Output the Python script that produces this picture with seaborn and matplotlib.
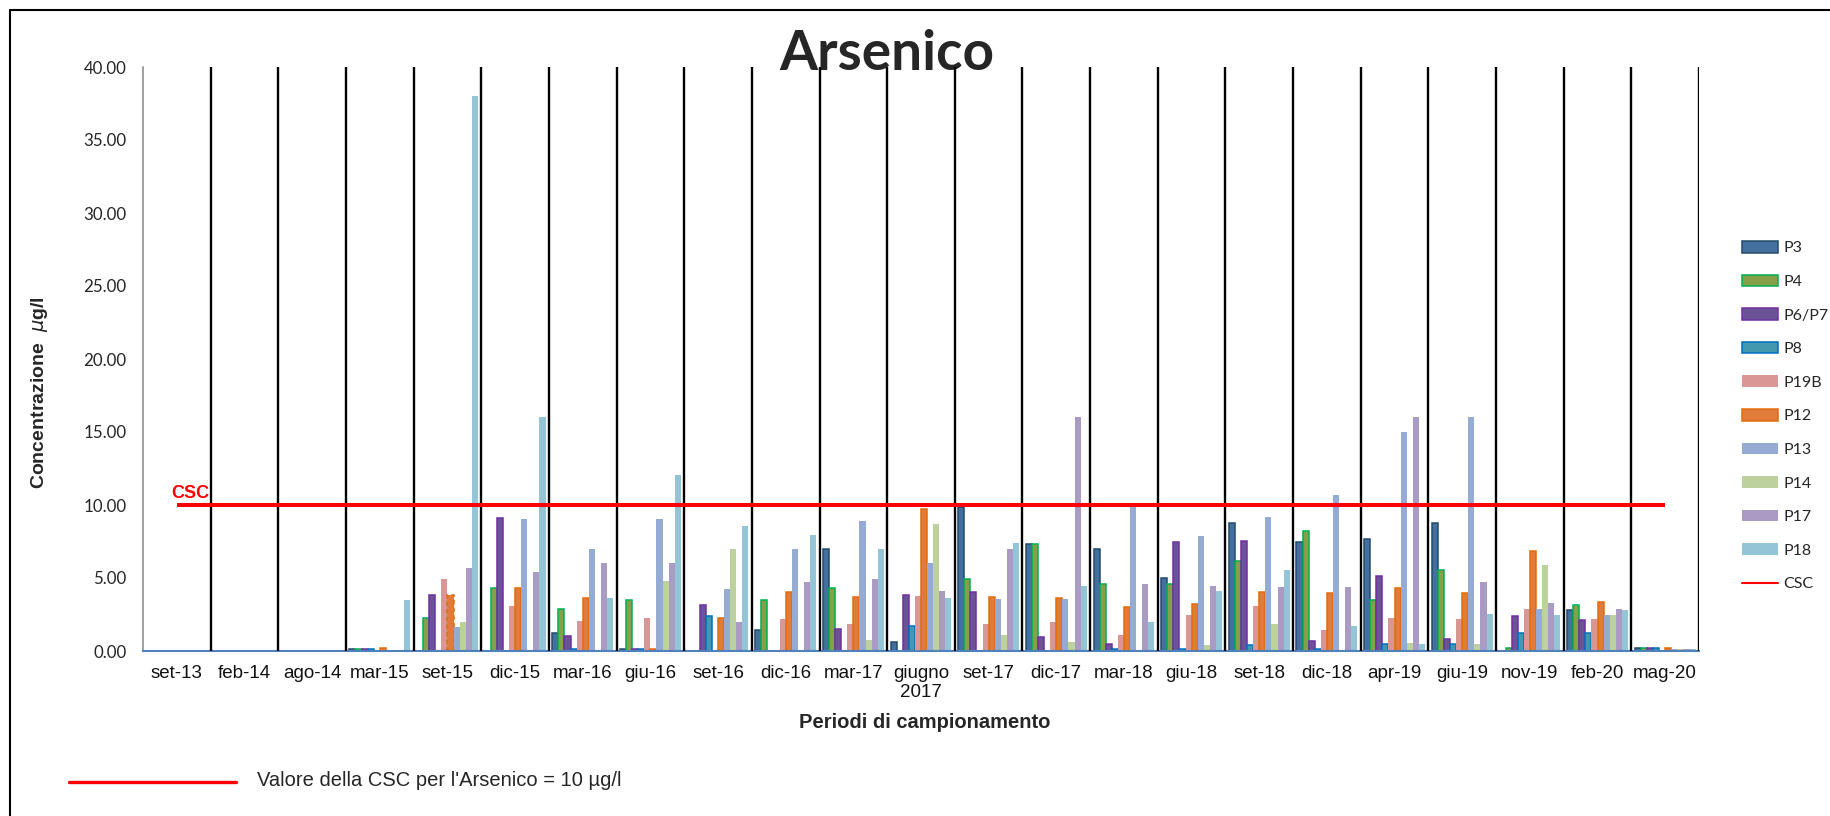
import matplotlib
matplotlib.use('Agg')
import pandas as pd
import matplotlib.pyplot as plt
import seaborn as sns
import numpy as np
from matplotlib.patches import Patch
from matplotlib.lines import Line2D

periods = ['set-13', 'feb-14', 'ago-14', 'mar-15', 'set-15', 'dic-15', 'mar-16', 'giu-16',
           'set-16', 'dic-16', 'mar-17', 'giugno\n2017', 'set-17', 'dic-17', 'mar-18', 'giu-18',
           'set-18', 'dic-18', 'apr-19', 'giu-19', 'nov-19', 'feb-20', 'mag-20']

p3 = [0, 0, 0, 0.16, 0, 0, 1.26, 0.16, 0, 1.42, 6.99, 0.59, 9.89, 7.31, 6.99, 5.0, 8.79, 7.44, 7.67, 8.79, 0, 2.83, 0.18]
p4 = [0, 0, 0, 0.16, 2.24, 4.32, 2.9, 3.52, 0, 3.52, 4.29, 0, 4.95, 7.31, 4.61, 4.61, 6.19, 8.24, 3.52, 5.53, 0.18, 3.17, 0.18]
p6p7 = [0, 0, 0, 0.16, 3.84, 9.09, 1.0, 0.16, 3.13, 0, 1.48, 3.81, 4.02, 0.94, 0.5, 7.44, 7.51, 0.68, 5.11, 0.8, 2.4, 2.12, 0.18]
p8 = [0, 0, 0, 0.16, 0, 0, 0.16, 0.16, 2.42, 0, 0, 1.71, 0, 0, 0.14, 0.14, 0.41, 0.14, 0.5, 0.48, 1.21, 1.21, 0.18]
p19b = [0, 0, 0, 0.05, 4.95, 3.1, 2.08, 2.24, 0, 2.19, 1.87, 3.77, 1.87, 1.99, 1.07, 2.49, 3.1, 1.44, 2.24, 2.19, 2.85, 2.19, 0.1]
p12 = [0, 0, 0, 0.18, 3.81, 4.34, 3.65, 0.16, 2.28, 4.02, 3.7, 9.7, 3.7, 3.63, 3.04, 3.2, 4.02, 3.95, 4.32, 3.95, 6.87, 3.38, 0.23]
p13 = [0, 0, 0, 0.05, 1.67, 9.02, 6.99, 9.02, 4.27, 6.99, 8.88, 6.0, 3.58, 3.58, 9.93, 7.9, 9.2, 10.66, 14.98, 16.0, 2.85, 2.47, 0.12]
p14 = [0, 0, 0, 0.05, 2.0, 0, 0.1, 4.77, 6.96, 0, 0.75, 8.7, 1.07, 0.59, 0.07, 0.41, 1.87, 0.09, 0.57, 0.46, 5.87, 2.47, 0.12]
p17 = [0, 0, 0, 0.05, 5.7, 5.39, 6.0, 6.0, 1.99, 4.73, 4.93, 4.09, 6.96, 16.0, 4.59, 4.45, 4.38, 4.38, 16.0, 4.7, 3.29, 2.85, 0.12]
p18 = [0, 0, 0, 3.49, 38.0, 16.0, 3.6, 12.03, 8.58, 7.95, 6.96, 3.63, 7.4, 4.45, 2.01, 4.11, 5.55, 1.74, 0.46, 2.56, 2.49, 2.81, 0.12]

series = ['P3', 'P4', 'P6/P7', 'P8', 'P19B', 'P12', 'P13', 'P14', 'P17', 'P18']
values = [p3, p4, p6p7, p8, p19b, p12, p13, p14, p17, p18]
csc_value = 10

fills = ['#43709f', '#86a04a', '#6a5497', '#4198af', '#d99694', '#e07b39',
         '#95abd3', '#bcd19b', '#a99bc4', '#93c5d6']
edges = ['#244a6b', '#00b050', '#7030a0', '#0070c0', None, '#e46c0a',
         None, None, None, None]

sns.set_style('white')
plt.rcParams['font.family'] = ['Liberation Sans', 'DejaVu Sans']

df = pd.DataFrame({
    'periodo': np.tile(periods, len(series)),
    'serie': np.repeat(series, len(periods)),
    'valore': np.concatenate(values),
})

W, H = 1831, 816
fig = plt.figure(figsize=(W / 100, H / 100), dpi=100)
ax = fig.add_axes([143 / W, 1 - 651 / H, (1699 - 143) / W, (651 - 67) / H])
ax.set_facecolor('none')

sns.barplot(data=df, x='periodo', y='valore', hue='serie', order=periods,
            hue_order=series, palette=fills, saturation=1, width=0.9,
            errorbar=None, legend=False, ax=ax)

for cont, ec in zip(ax.containers, edges):
    for bar in cont:
        if ec is None:
            bar.set_linewidth(0)
        else:
            bar.set_edgecolor(ec)
            bar.set_linewidth(1.1)
# dashed outline on P12 set-15 as in the original
ax.containers[5][4].set_linestyle((0, (3, 2)))

n = len(periods)
ax.set_xlim(-0.5, n - 0.5)
ax.set_ylim(0, 40)
ax.set_yticks(np.arange(0, 41, 5))
ax.set_yticklabels(['%.2f' % v for v in np.arange(0, 41, 5)])

# separators between periods
ax.vlines(np.arange(0.5, n, 1), 0, 40, colors='black', lw=1.7, zorder=5)
ax.hlines(csc_value, 0, n - 1, colors='#ff0000', lw=2.9, zorder=6)
ax.text(-0.08, csc_value + 0.45, 'CSC', color='#ff0000', fontsize=13,
        fontweight='bold', ha='left', va='baseline', zorder=7)

for s in ['top', 'right']:
    ax.spines[s].set_visible(False)
ax.spines['bottom'].set_color('#4f81bd')
ax.spines['bottom'].set_linewidth(1.5)
ax.spines['left'].set_color('#868686')
ax.spines['left'].set_linewidth(1.1)

ax.set_xticks(np.arange(-0.5, n, 1), minor=True)
ax.tick_params(axis='x', which='major', length=0, pad=10, labelsize=13.5, labelcolor='#111111')
ax.tick_params(axis='x', which='minor', length=5, width=1.2, color='#4f81bd', direction='out')
ax.tick_params(axis='y', length=5, width=1.1, color='#868686', direction='out', pad=7,
               labelsize=12.2, labelcolor='#262626')
for lab in ax.get_yticklabels():
    lab.set_family(['Lato', 'DejaVu Sans'])

ax.set_xlabel('Periodi di campionamento', fontsize=14.5, fontweight='bold')
ax.xaxis.set_label_coords((925 - 143) / 1556, (651 - 722) / 584)
ax.xaxis.label.set_va('center')
ax.set_ylabel('Concentrazione  $\\mu$g/l', fontsize=14, fontweight='bold')
ax.yaxis.set_label_coords((40 - 143) / 1556, (651 - 393) / 584)
ax.yaxis.label.set_va('center')

fig.text(887 / W, 1 - 70 / H, 'Arsenico', fontsize=39.5, fontweight='bold',
         family=['Lato', 'DejaVu Sans'], ha='center', va='baseline', zorder=-1)

handles = [Patch(facecolor=f, edgecolor=e if e else f, lw=1.1 if e else 0)
           for f, e in zip(fills, edges)]
handles.append(Line2D([], [], color='#ff0000', lw=1.5))
fig.legend(handles, series + ['CSC'], loc='upper left',
           bbox_to_anchor=(1742 / W, 1 - 241 / H), frameon=False,
           borderpad=0, borderaxespad=0, handlelength=2.25, handleheight=0.75,
           handletextpad=0.35, labelspacing=1.2,
           prop={'family': ['Lato', 'DejaVu Sans'], 'size': 11.5})

# note under the chart
fig.add_artist(Line2D([69 / W, 236 / W], [1 - 782 / H, 1 - 782 / H],
                      color='#ff0000', lw=2.4, transform=fig.transFigure))
fig.text(257 / W, 1 - 780 / H, "Valore della CSC per l'Arsenico = 10 \u00b5g/l",
         fontsize=14.5, ha='left', va='center')

# outer frame (top and left edges visible)
fig.add_artist(Line2D([10 / W, 1], [1 - 10 / H, 1 - 10 / H], color='black', lw=1.5,
                      transform=fig.transFigure))
fig.add_artist(Line2D([10 / W, 10 / W], [0, 1 - 10 / H], color='black', lw=1.5,
                      transform=fig.transFigure))

fig.savefig('out.png', dpi=100)
